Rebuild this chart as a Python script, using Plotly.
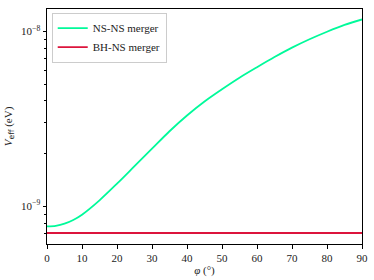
import plotly.graph_objects as go

phi_deg = [0, 2.5, 5, 7.5, 10, 15, 20, 25, 30, 35, 40, 45, 50, 55, 60, 65, 70, 75, 80, 85, 90]
ns_ns_veff = [7.66e-10, 7.73e-10, 7.95e-10, 8.35e-10, 8.95e-10, 1.081e-9, 1.346e-9, 1.694e-9,
              2.133e-9, 2.685e-9, 3.304e-9, 3.972e-9, 4.667e-9, 5.433e-9, 6.237e-9, 7.129e-9,
              8.072e-9, 9.016e-9, 9.954e-9, 1.089e-8, 1.170e-8]
bh_ns_phi = [0, 90]
bh_ns_veff = [7.03e-10, 7.03e-10]

x_ticks = [0, 10, 20, 30, 40, 50, 60, 70, 80, 90]
y_major = [1e-9, 1e-8]
y_major_text = ["10<sup>−9</sup>", "10<sup>−8</sup>"]
y_minor = [7e-10, 8e-10, 9e-10, 2e-9, 3e-9, 4e-9, 5e-9, 6e-9, 7e-9, 8e-9, 9e-9]

font = "Liberation Serif"

fig = go.Figure()
fig.add_trace(go.Scatter(x=phi_deg, y=ns_ns_veff, mode="lines", name="NS-NS merger",
                         line=dict(color="#00FA9A", width=1.8, shape="spline", smoothing=0.8)))
fig.add_trace(go.Scatter(x=bh_ns_phi, y=bh_ns_veff, mode="lines", name="BH-NS merger",
                         line=dict(color="#DC143C", width=1.8)))

fig.update_layout(
    width=374, height=280,
    margin=dict(l=47, r=12, t=9, b=36),
    paper_bgcolor="white", plot_bgcolor="white",
    font=dict(family=font, size=11, color="#222"),
    showlegend=True,
    legend=dict(x=0.015, y=0.985, xanchor="left", yanchor="top",
                bgcolor="rgba(255,255,255,0.8)", bordercolor="#cccccc", borderwidth=1,
                font=dict(family=font, size=11), tracegroupgap=0, itemwidth=30),
)
fig.update_xaxes(
    range=[0, 90], tickvals=x_ticks, ticks="outside", ticklen=3.5, tickwidth=0.8,
    tickcolor="black", showline=True, linecolor="black", linewidth=1, mirror=True,
    showgrid=False, zeroline=False, automargin=False,
    title=dict(text="<i>φ</i> (°)", font=dict(family=font, size=11), standoff=3),
    tickfont=dict(family=font, size=11),
)
fig.update_yaxes(
    type="log", range=[-9.216, -7.872],
    tickvals=y_major, ticktext=y_major_text, ticks="outside", ticklen=3.5, tickwidth=0.8,
    tickcolor="black", showline=True, linecolor="black", linewidth=1, mirror=True,
    showgrid=False, zeroline=False, automargin=False,
    minor=dict(tickvals=y_minor, ticks="outside", ticklen=2, tickwidth=0.6, tickcolor="black",
               showgrid=False),
    title=dict(text="<i>V</i><sub><span style='font-family:DejaVu Sans'>eff</span></sub> (eV)",
               font=dict(family=font, size=11), standoff=6),
    tickfont=dict(family=font, size=11),
)

fig.write_html("out.html", config={"displayModeBar": False},
               post_script="document.body.style.margin='0';")
